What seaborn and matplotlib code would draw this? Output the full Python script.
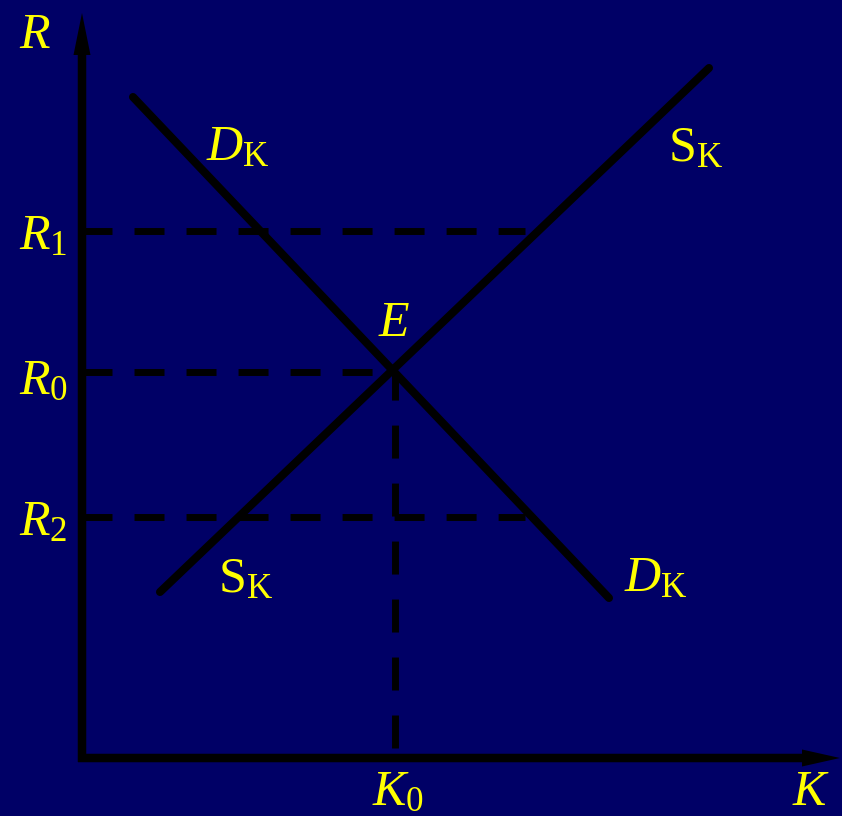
import matplotlib
matplotlib.use("Agg")
import matplotlib.pyplot as plt
import seaborn as sns

# ---- data (capital K on x, rental rate R on y) ----
demand_K = [0.51, 5.27]
demand_R = [6.61, 1.60]
supply_K = [0.78, 6.27]
supply_R = [1.66, 6.90]
R_levels = {"R1": 5.27, "R0": 3.86, "R2": 2.41}
K0 = 3.13
R0 = 3.86
guide_end_K = 4.43

sns.set_theme(style="white")
plt.rcParams["mathtext.fontset"] = "custom"
plt.rcParams["mathtext.rm"] = "Liberation Serif"
plt.rcParams["mathtext.it"] = "Liberation Serif:italic"
plt.rcParams["font.family"] = ["Liberation Serif", "DejaVu Serif"]

BG = "#000066"
YEL = "#FFFF00"

fig = plt.figure(figsize=(8.42, 8.16), dpi=100)
fig.patch.set_facecolor(BG)
ax = fig.add_axes([0, 0, 1, 1])
ax.set_xlim(-0.82, 7.60)
ax.set_ylim(-0.58, 7.58)
ax.set_axis_off()

lw_solid = 5.8
lw_dash = 5.0
dash_h = (0, (4.32, 3.17))
dash_v = (0, (4.75, 3.6))

# dashed guide lines
for name in ["R1", "R2"]:
    r = R_levels[name]
    sns.lineplot(x=[0.0, guide_end_K], y=[r, r], estimator=None, sort=False,
                 color="black", lw=lw_dash, linestyle=dash_h, dash_capstyle="butt", ax=ax)
sns.lineplot(x=[0.0, K0], y=[R0, R0], estimator=None, sort=False,
             color="black", lw=lw_dash, linestyle=dash_h, dash_capstyle="butt", ax=ax)
sns.lineplot(x=[K0, K0], y=[0.10, R0], estimator=None, sort=False,
             color="black", lw=lw_dash, linestyle=dash_v, dash_capstyle="butt", ax=ax)

# demand and supply curves
sns.lineplot(x=demand_K, y=demand_R, estimator=None, sort=False,
             color="black", lw=lw_solid, solid_capstyle="round", ax=ax)
sns.lineplot(x=supply_K, y=supply_R, estimator=None, sort=False,
             color="black", lw=lw_solid, solid_capstyle="round", ax=ax)

# axes with arrows
ax.arrow(0, -0.04, 0, 7.49, width=0.085, head_width=0.17, head_length=0.42,
         length_includes_head=True, fc="black", ec="none", zorder=5)
ax.arrow(-0.04, 0, 7.62, 0, width=0.085, head_width=0.17, head_length=0.38,
         length_includes_head=True, fc="black", ec="none", zorder=5)

fs = 36
def lab(x, y, s):
    ax.text(x, y, s, color=YEL, fontsize=fs, ha="left", va="baseline")

lab(-0.63, 7.10, r"$R$")
lab(-0.63, R_levels["R1"] - 0.18, r"$R_1$")
lab(-0.63, R_levels["R0"] - 0.22, r"$R_0$")
lab(-0.63, R_levels["R2"] - 0.18, r"$R_2$")
lab(K0 - 0.23, -0.47, r"$K_0$")
lab(7.10, -0.47, r"$K$")
lab(2.96, 4.22, r"$E$")
lab(1.24, 5.98, r"$D_\mathrm{K}$")
lab(5.86, 5.97, r"$\mathrm{S}_\mathrm{K}$")
lab(1.36, 1.66, r"$\mathrm{S}_\mathrm{K}$")
lab(5.42, 1.67, r"$D_\mathrm{K}$")

fig.savefig("out.png", dpi=100, facecolor=fig.get_facecolor())
